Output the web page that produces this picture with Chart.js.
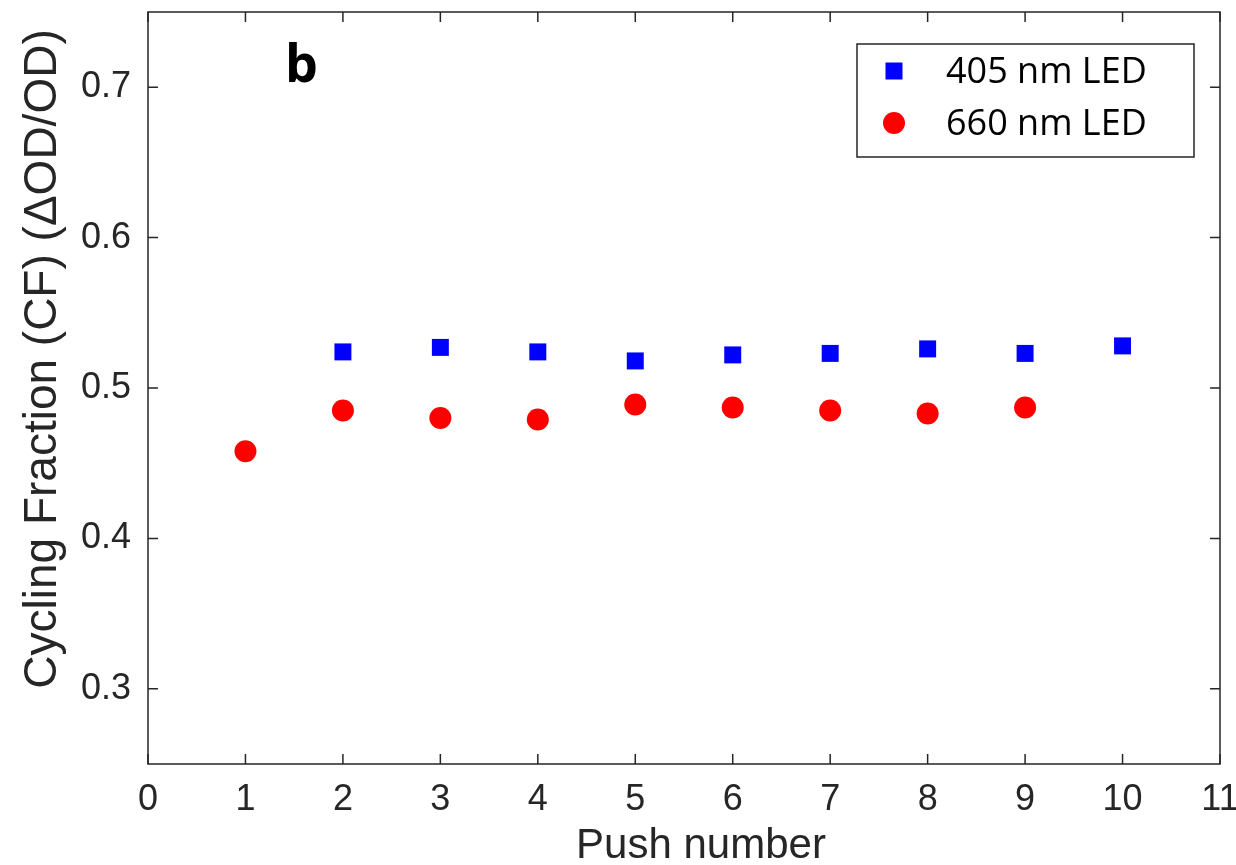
<!DOCTYPE html>
<html>
<head>
<meta charset="utf-8">
<script src="https://cdn.jsdelivr.net/npm/chart.js@4.4.0/dist/chart.umd.min.js"></script>
<style>
  html, body { margin: 0; padding: 0; background: #fff; }
  #wrap { width: 1236px; height: 865px; position: relative; }
</style>
</head>
<body>
<div id="wrap"><canvas id="chart"></canvas></div>
<script>
// push numbers and cycling fractions
const push405 = [2, 3, 4, 5, 6, 7, 8, 9, 10];
const cf405 = [0.524, 0.527, 0.524, 0.518, 0.522, 0.523, 0.526, 0.523, 0.528];
const push660 = [1, 2, 3, 4, 5, 6, 7, 8, 9];
const cf660 = [0.458, 0.485, 0.480, 0.479, 0.489, 0.487, 0.485, 0.483, 0.487];

const xTicks = [0, 1, 2, 3, 4, 5, 6, 7, 8, 9, 10, 11];
const yTicks = [0.3, 0.4, 0.5, 0.6, 0.7];

const xTitle = 'Push number';
const yTitle = 'Cycling Fraction (CF) (\u0394OD/OD)';

const axisColor = '#262626';
const fontFamily = '"Liberation Sans", Arial, sans-serif';
const tickFont = { family: fontFamily, size: 36 };

// MATLAB-style box with inward ticks on all four sides
const boxTicks = {
    id: 'boxTicks',
    afterDraw(chart) {
        const { ctx, chartArea: a, scales: { x, y } } = chart;
        const len = 10;
        ctx.save();
        ctx.strokeStyle = axisColor;
        ctx.lineWidth = 1.5;
        ctx.strokeRect(a.left, a.top, a.right - a.left, a.bottom - a.top);
        ctx.beginPath();
        x.ticks.forEach(t => {
            const px = x.getPixelForValue(t.value);
            ctx.moveTo(px, a.bottom); ctx.lineTo(px, a.bottom - len);
            ctx.moveTo(px, a.top); ctx.lineTo(px, a.top + len);
        });
        y.ticks.forEach(t => {
            const py = y.getPixelForValue(t.value);
            ctx.moveTo(a.left, py); ctx.lineTo(a.left + len, py);
            ctx.moveTo(a.right, py); ctx.lineTo(a.right - len, py);
        });
        ctx.stroke();

        // astitels (niet precies gecentreerd in het origineel)
        ctx.fillStyle = axisColor;
        ctx.font = '42px ' + fontFamily;
        ctx.textAlign = 'center';
        ctx.textBaseline = 'alphabetic';
        ctx.fillText(xTitle, 701, 858);
        ctx.translate(56, 359);
        ctx.rotate(-Math.PI / 2);
        ctx.font = '46px ' + fontFamily;
        ctx.fillText(yTitle, 0, 0);
        ctx.restore();
    }
};

// legend box in the top right corner + panel letter
const boxLegend = {
    id: 'boxLegend',
    afterDraw(chart) {
        const { ctx, chartArea: a } = chart;
        const bx = 857, by = 44, bw = 337, bh = 113;
        ctx.save();
        ctx.fillStyle = '#fff';
        ctx.fillRect(bx, by, bw, bh);
        ctx.strokeStyle = axisColor;
        ctx.lineWidth = 1.5;
        ctx.strokeRect(bx, by, bw, bh);
        chart.data.datasets.forEach((ds, i) => {
            const cy = by + 27 + i * 52;
            ctx.fillStyle = ds.backgroundColor;
            if (ds.pointStyle === 'rect') {
                ctx.fillRect(bx + 37 - 8.5, cy - 8.5, 17, 17);
            } else {
                ctx.beginPath();
                ctx.arc(bx + 37, cy, 11, 0, Math.PI * 2);
                ctx.fill();
            }
            ctx.fillStyle = '#000';
            ctx.font = '36px "Open Sans", sans-serif';
            ctx.textBaseline = 'middle';
            ctx.textAlign = 'left';
            ctx.fillText(ds.label, bx + 89, cy + 2);
        });
        ctx.fillStyle = '#000';
        ctx.font = 'bold 52px "Open Sans", sans-serif';
        ctx.textBaseline = 'alphabetic';
        ctx.fillText('b', a.left + 137, 82);
        ctx.restore();
    }
};

new Chart(document.getElementById('chart'), {
    type: 'scatter',
    data: {
        datasets: [
            {
                label: '405 nm LED',
                data: push405.map((p, i) => ({ x: p, y: cf405[i] })),
                pointStyle: 'rect',
                pointRadius: 12,
                pointHoverRadius: 12,
                borderWidth: 0,
                backgroundColor: '#0000ff'
            },
            {
                label: '660 nm LED',
                data: push660.map((p, i) => ({ x: p, y: cf660[i] })),
                pointStyle: 'circle',
                pointRadius: 11,
                pointHoverRadius: 11,
                borderWidth: 0,
                backgroundColor: '#ff0000'
            }
        ]
    },
    options: {
        responsive: true,
        maintainAspectRatio: false,
        animation: false,
        layout: { padding: { top: 12, right: 16, left: 0, bottom: 0 } },
        scales: {
            x: {
                min: 0,
                max: 11,
                grid: { display: false, drawTicks: false },
                border: { display: false },
                afterBuildTicks: s => { s.ticks = xTicks.map(v => ({ value: v })); },
                // vaste hoogte, geen extra randruimte voor de labels
                afterFit: s => { s.height = 101; s.paddingLeft = 0; s.paddingRight = 0; },
                ticks: { color: axisColor, font: tickFont, padding: 14, maxRotation: 0 }
            },
            y: {
                min: 0.25,
                max: 0.75,
                grid: { display: false, drawTicks: false },
                border: { display: false },
                afterBuildTicks: s => { s.ticks = yTicks.map(v => ({ value: v })); },
                afterFit: s => { s.width = 148; s.paddingTop = 0; s.paddingBottom = 0; },
                ticks: {
                    color: axisColor,
                    font: tickFont,
                    padding: 17,
                    callback: v => v.toFixed(1)
                }
            }
        },
        plugins: {
            legend: { display: false },
            tooltip: { enabled: false }
        }
    },
    plugins: [boxTicks, boxLegend]
});
</script>
</body>
</html>
